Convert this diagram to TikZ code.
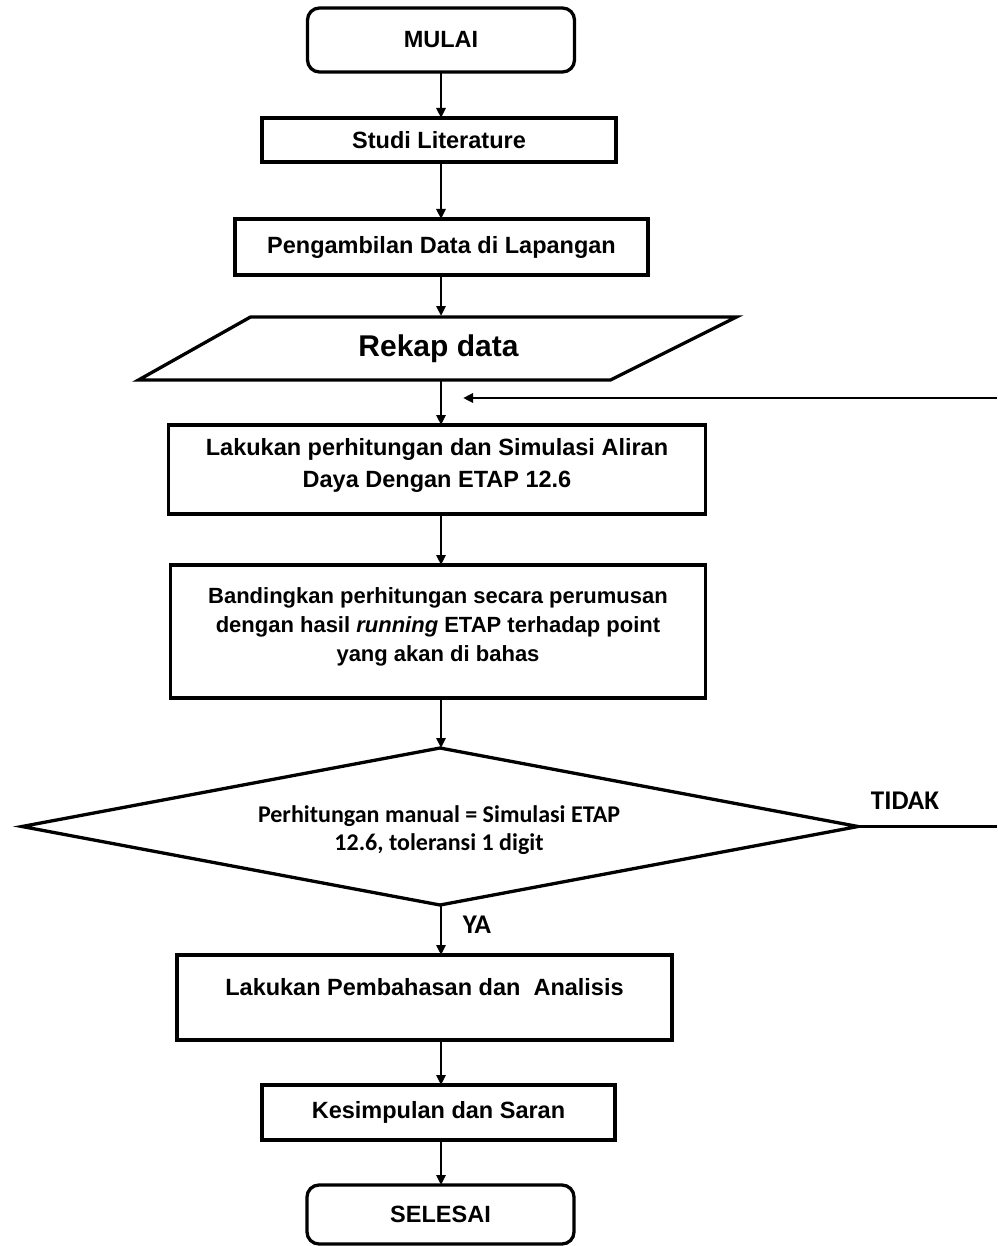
\documentclass[tikz,border=0pt]{standalone}
\usepackage{fontspec}
\setmainfont{Liberation Sans}
\newfontfamily\calibrifont{Carlito}
\usetikzlibrary{shapes.geometric,arrows.meta}
\begin{document}
\begin{tikzpicture}[x=1pt,y=-1pt,
  every node/.style={inner sep=0pt,outer sep=0pt},
  box/.style={draw,line width=3.3pt,minimum width=#1,align=center,font=\fontsize{23.5}{31}\selectfont\bfseries},
  term/.style={box=#1,rounded corners=12pt},
  arr/.style={line width=2.5pt,-{Triangle[length=10pt,width=9pt]}},
  lbl/.style={font=\calibrifont\fontsize{27}{30}\selectfont\bfseries}]
\useasboundingbox (0,0) rectangle (997,1246);
% nodes
\node[term=267pt,minimum height=64pt] (mulai) at (441,40) {MULAI};
\node[box=354pt,minimum height=44pt] (studi) at (439,140) {Studi Literature};
\node[box=413pt,minimum height=56pt] (ambil) at (441.5,247) {Pengambilan Data di Lapangan};
\node[minimum width=480pt,minimum height=63pt,font=\fontsize{30}{34}\selectfont\bfseries] (rekap) at (438.5,348.5) {Rekap data};
\draw[line width=3.3pt,line join=miter]
  ([xshift=52pt]rekap.north west) -- ([xshift=58pt]rekap.north east)
  -- ([xshift=-68pt]rekap.south east) -- ([xshift=-60pt]rekap.south west) -- cycle;
\node[box=537pt,minimum height=89pt,font=\fontsize{23.5}{32}\selectfont\bfseries] (hitung) at (437,469.5) {Lakukan perhitungan dan Simulasi Aliran\\Daya Dengan ETAP 12.6\\[-19pt]\mbox{}};
\node[box=535pt,minimum height=133pt,font=\fontsize{22}{29}\selectfont\bfseries] (banding) at (438,631.5) {Bandingkan perhitungan secara perumusan\\dengan hasil \textit{running} ETAP terhadap point\\yang akan di bahas\\[-16pt]\mbox{}};
\node[draw,line width=3.3pt,shape=diamond,aspect=5.3,minimum width=836pt,minimum height=157pt] (dec) at (440,826.5) {};
\node[align=center,font=\calibrifont\fontsize{24}{28}\selectfont\bfseries] (dectext) at (439,830) {Perhitungan manual = Simulasi ETAP\\12.6, toleransi 1 digit};
\node[box=495pt,minimum height=85pt] (bahas) at (424.5,997.5) {Lakukan Pembahasan dan\ \ Analisis\\[-10pt]\mbox{}};
\node[box=353pt,minimum height=55pt] (simpul) at (438.5,1112.5) {Kesimpulan dan Saran};
\node[term=267pt,minimum height=59pt] (selesai) at (440.5,1214.5) {SELESAI};
% labels
\node[lbl] (tidak) at (905,801) {TIDAK};
\node[lbl] (ya) at (477,925) {YA};
% free ends
\coordinate (fbin) at (463,398);
\coordinate (fbout) at (997,398);
\coordinate (noout) at (997,826.5);
% connectors
\draw[arr] (mulai.south -| 441,0) -- (studi.north -| 441,0);
\draw[arr] (studi.south -| 441,0) -- (ambil.north -| 441,0);
\draw[arr] (ambil.south -| 441,0) -- ([yshift=1pt]rekap.north -| 441,0);
\draw[arr] ([yshift=-1pt]rekap.south -| 441,0) -- (hitung.north -| 441,0);
\draw[arr] (hitung.south -| 441,0) -- (banding.north -| 441,0);
\draw[arr] (banding.south -| 441,0) -- (dec.north -| 441,0);
\draw[arr] (dec.south -| 441,0) -- (bahas.north -| 441,0);
\draw[arr] (bahas.south -| 441,0) -- (simpul.north -| 441,0);
\draw[arr] (simpul.south -| 441,0) -- (selesai.north -| 441,0);
\draw[line width=2.5pt] (dec.east) -- (noout);
\draw[arr] (fbout) -- (fbin);
\end{tikzpicture}
\end{document}
